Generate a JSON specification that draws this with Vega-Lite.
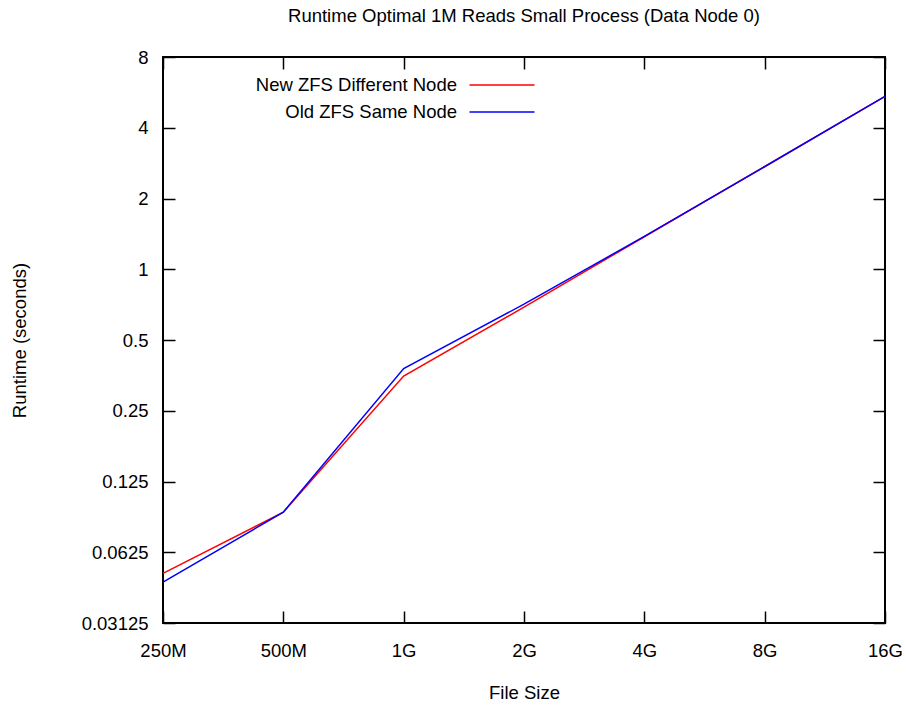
{
  "$schema": "https://vega.github.io/schema/vega-lite/v6.json",
  "autosize": {"type": "none"},
  "width": 722,
  "height": 566,
  "padding": {"left": 163, "top": 57, "right": 21, "bottom": 82},
  "background": "white",
  "config": {
    "font": "Liberation Sans",
    "view": {"stroke": "black", "strokeWidth": 2},
    "axis": {
      "grid": false, "domain": false, "ticks": true, "tickColor": "black", "tickWidth": 1.5,
      "tickSize": -12, "labelFont": "Liberation Sans", "labelFontSize": 18.5, "labelColor": "black",
      "titleFont": "Liberation Sans", "titleFontSize": 18.5, "titleFontWeight": "normal", "titleColor": "black"
    }
  },
  "title": {"text": "Runtime Optimal 1M Reads Small Process (Data Node 0)", "font": "Liberation Sans", "fontSize": 18.5, "fontWeight": "normal", "color": "black", "anchor": "middle", "offset": 23},
  "data": {"values": [
    {"size": "250M", "series": "New ZFS Different Node", "runtime": 0.0508},
    {"size": "500M", "series": "New ZFS Different Node", "runtime": 0.0926},
    {"size": "1G", "series": "New ZFS Different Node", "runtime": 0.351},
    {"size": "2G", "series": "New ZFS Different Node", "runtime": 0.69},
    {"size": "4G", "series": "New ZFS Different Node", "runtime": 1.375},
    {"size": "8G", "series": "New ZFS Different Node", "runtime": 2.74},
    {"size": "16G", "series": "New ZFS Different Node", "runtime": 5.44},
    {"size": "250M", "series": "Old ZFS Same Node", "runtime": 0.0466},
    {"size": "500M", "series": "Old ZFS Same Node", "runtime": 0.0926},
    {"size": "1G", "series": "Old ZFS Same Node", "runtime": 0.378},
    {"size": "2G", "series": "Old ZFS Same Node", "runtime": 0.71},
    {"size": "4G", "series": "Old ZFS Same Node", "runtime": 1.38},
    {"size": "8G", "series": "Old ZFS Same Node", "runtime": 2.73},
    {"size": "16G", "series": "Old ZFS Same Node", "runtime": 5.44}
  ]},
  "resolve": {"axis": {"x": "independent", "y": "independent"}},
  "layer": [
    {
      "mark": {"type": "line", "strokeWidth": 1.5},
      "encoding": {
        "x": {"field": "size", "type": "ordinal", "sort": ["250M","500M","1G","2G","4G","8G","16G"],
              "scale": {"type": "point", "padding": 0},
              "axis": {"orient": "bottom", "labelAngle": 0, "labelPadding": 30, "title": "File Size", "titlePadding": 24}},
        "y": {"field": "runtime", "type": "quantitative",
              "scale": {"type": "log", "base": 2, "domain": [0.03125, 8]},
              "axis": {"orient": "left", "values": [0.03125,0.0625,0.125,0.25,0.5,1,2,4,8], "labelExpr": "datum.value + ''", "labelPadding": 27, "title": "Runtime (seconds)", "titlePadding": 52}},
        "color": {"field": "series", "type": "nominal",
                  "scale": {"domain": ["New ZFS Different Node", "Old ZFS Same Node"], "range": ["#ff0000", "#0000ff"]},
                  "legend": {"orient": "none", "legendX": 280, "legendY": 16, "title": null,
                             "symbolType": "M-3,0H3", "symbolSize": 470, "symbolStrokeWidth": 1.5, "symbolFillColor": "transparent",
                             "labelAlign": "right", "labelOffset": -57, "symbolOffset": 47, "labelLimit": 400,
                             "rowPadding": 5, "labelFontSize": 18.5, "labelFont": "Liberation Sans", "labelColor": "black"}}
      }
    },
    {
      "mark": {"type": "line", "strokeWidth": 0, "opacity": 0},
      "encoding": {
        "x": {"field": "size", "type": "ordinal", "sort": ["250M","500M","1G","2G","4G","8G","16G"],
              "scale": {"type": "point", "padding": 0},
              "axis": {"orient": "top", "labels": false, "title": null}},
        "y": {"field": "runtime", "type": "quantitative",
              "scale": {"type": "log", "base": 2, "domain": [0.03125, 8]},
              "axis": {"orient": "right", "values": [0.03125,0.0625,0.125,0.25,0.5,1,2,4,8], "labels": false, "title": null}},
        "detail": {"field": "series"}
      }
    }
  ]
}
